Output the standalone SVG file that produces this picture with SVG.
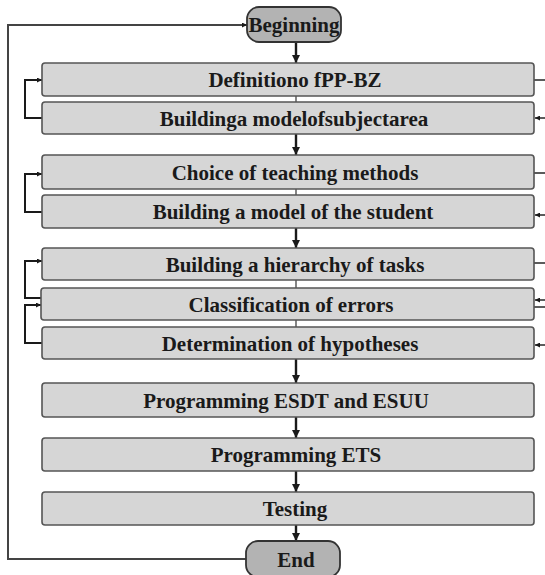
<svg xmlns="http://www.w3.org/2000/svg" width="545" height="575" viewBox="0 0 545 575">
  <defs>
    <marker id="ah" viewBox="0 0 10 10" refX="10" refY="5" markerWidth="5" markerHeight="5" orient="auto" markerUnits="userSpaceOnUse">
      <path d="M0,0 L10,5 L0,10 z" fill="#1a1a1a"/>
    </marker>
    <marker id="ahBig" viewBox="0 0 10 10" refX="10" refY="5" markerWidth="8" markerHeight="8" orient="auto" markerUnits="userSpaceOnUse">
      <path d="M0,0 L10,5 L0,10 z" fill="#1a1a1a"/>
    </marker>
  </defs>
  <style>
    .step { fill: #d6d6d6; stroke: #555; stroke-width: 1.6; }
    .term { fill: #b3b3b3; stroke: #333; stroke-width: 1.8; }
    .lbl { font-family: "Liberation Serif", "Times New Roman", serif; font-weight: bold; font-size: 21px; fill: #1a1a1a; text-anchor: middle; }
    .flow { stroke: #1a1a1a; stroke-width: 2.4; fill: none; }
    .link { stroke: #666; stroke-width: 1.6; fill: none; }
    .loop { stroke: #1a1a1a; stroke-width: 2; fill: none; }
    .outer { stroke: #444; stroke-width: 2; fill: none; }
    .stub { stroke: #333; stroke-width: 1.6; fill: none; }
  </style>

  <rect width="545" height="575" fill="#ffffff"/>

  <!-- connectors -->
  <g id="connectors">
    <!-- main downward flow -->
    <line class="flow" x1="296" y1="42" x2="296" y2="63" marker-end="url(#ahBig)"/>
    <line class="link" x1="296" y1="96" x2="296" y2="102"/>
    <line class="flow" x1="296" y1="134" x2="296" y2="155" marker-end="url(#ahBig)"/>
    <line class="link" x1="296" y1="189" x2="296" y2="195"/>
    <line class="flow" x1="296" y1="228" x2="296" y2="248" marker-end="url(#ahBig)"/>
    <line class="link" x1="296" y1="280" x2="296" y2="288"/>
    <line class="link" x1="296" y1="320" x2="296" y2="327"/>
    <line class="flow" x1="296" y1="359" x2="296" y2="383" marker-end="url(#ahBig)"/>
    <line class="flow" x1="296" y1="417" x2="296" y2="438" marker-end="url(#ahBig)"/>
    <line class="flow" x1="296" y1="471" x2="296" y2="492" marker-end="url(#ahBig)"/>
    <line class="flow" x1="296" y1="525" x2="296" y2="541" marker-end="url(#ahBig)"/>

    <!-- return from End back to Beginning -->
    <polyline class="outer" points="246,559 8,559 8,25 247,25" marker-end="url(#ah)"/>

    <!-- left feedback loops -->
    <polyline class="loop" points="42,118 25,118 25,80 42,80" marker-end="url(#ah)"/>
    <polyline class="loop" points="42,212 25,212 25,174 42,174" marker-end="url(#ah)"/>
    <polyline class="loop" points="42,298 25,298 25,261 42,261" marker-end="url(#ah)"/>
    <polyline class="loop" points="42,343 25,343 25,305 41,305" marker-end="url(#ah)"/>

    <!-- right side stubs -->
    <line class="stub" x1="534" y1="80" x2="545" y2="80"/>
    <line class="stub" x1="545" y1="118" x2="535" y2="118" marker-end="url(#ah)"/>
    <line class="stub" x1="534" y1="173" x2="545" y2="173"/>
    <line class="stub" x1="545" y1="215" x2="535" y2="215" marker-end="url(#ah)"/>
    <line class="stub" x1="534" y1="263" x2="545" y2="263"/>
    <line class="stub" x1="545" y1="300" x2="535" y2="300" marker-end="url(#ah)"/>
    <line class="stub" x1="534" y1="307" x2="545" y2="307"/>
    <line class="stub" x1="545" y1="345" x2="535" y2="345" marker-end="url(#ah)"/>
  </g>

  <g id="beginning">
    <rect class="term" x="247" y="7" width="94" height="35" rx="12"/>
    <text class="lbl" x="294" y="32">Beginning</text>
  </g>

  <g id="definition">
    <rect class="step" x="42" y="63" width="492" height="33" rx="3"/>
    <text class="lbl" x="295" y="87">Definitiono fPP-BZ</text>
  </g>

  <g id="subject-model">
    <rect class="step" x="42" y="102" width="492" height="32" rx="3"/>
    <text class="lbl" x="294" y="125.5">Buildinga modelofsubjectarea</text>
  </g>

  <g id="teaching-methods">
    <rect class="step" x="42" y="155" width="492" height="34" rx="3"/>
    <text class="lbl" x="295" y="179.5">Choice of teaching methods</text>
  </g>

  <g id="student-model">
    <rect class="step" x="42" y="195" width="492" height="33" rx="3"/>
    <text class="lbl" x="293" y="219">Building a model of the student</text>
  </g>

  <g id="task-hierarchy">
    <rect class="step" x="42" y="248" width="492" height="32" rx="3"/>
    <text class="lbl" x="295" y="271.5">Building a hierarchy of tasks</text>
  </g>

  <g id="errors">
    <rect class="step" x="41" y="288" width="493" height="32" rx="3"/>
    <text class="lbl" x="291" y="311.5">Classification of errors</text>
  </g>

  <g id="hypotheses">
    <rect class="step" x="42" y="327" width="492" height="32" rx="3"/>
    <text class="lbl" x="290" y="350.5">Determination of hypotheses</text>
  </g>

  <g id="esdt-esuu">
    <rect class="step" x="42" y="383" width="492" height="34" rx="3"/>
    <text class="lbl" x="286" y="407.5">Programming ESDT and ESUU</text>
  </g>

  <g id="ets">
    <rect class="step" x="42" y="438" width="492" height="33" rx="3"/>
    <text class="lbl" x="296" y="462">Programming ETS</text>
  </g>

  <g id="testing">
    <rect class="step" x="42" y="492" width="492" height="33" rx="3"/>
    <text class="lbl" x="295" y="516">Testing</text>
  </g>

  <g id="end">
    <rect class="term" x="246" y="541" width="94" height="36" rx="12"/>
    <text class="lbl" x="296" y="566.5">End</text>
  </g>
</svg>
